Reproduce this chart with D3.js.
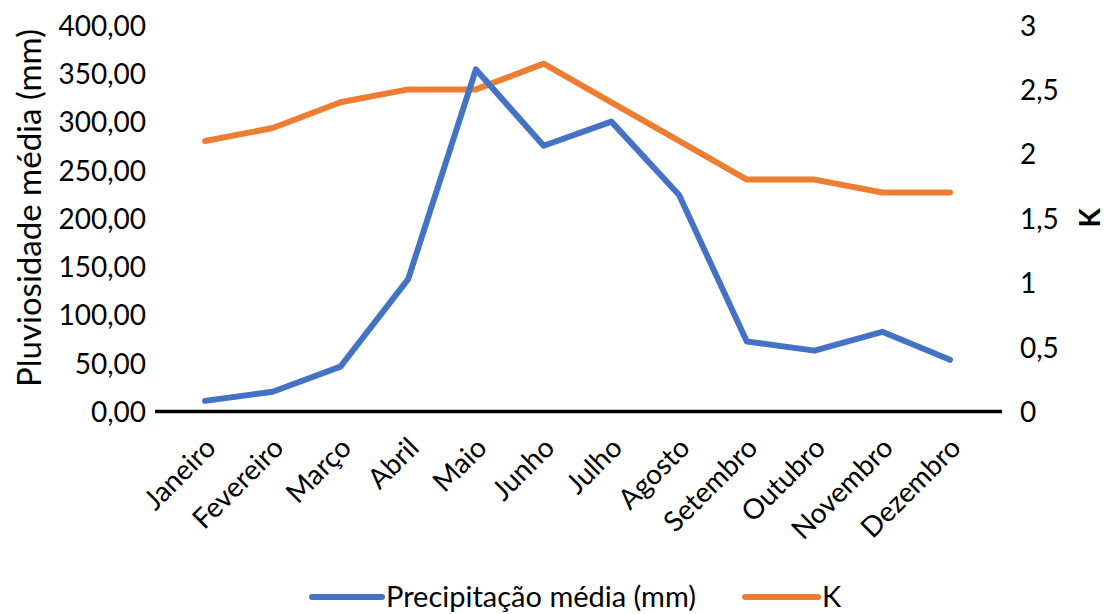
<!DOCTYPE html>
<html>
<head>
<meta charset="utf-8">
<script src="https://cdn.jsdelivr.net/npm/d3@7"></script>
<style>
  html, body { margin: 0; padding: 0; background: #fff; }
  svg text { font-family: Lato, "Open Sans", sans-serif; fill: #000; }
</style>
</head>
<body>
<svg id="chart" width="1111" height="614"></svg>
<script>
// Monthly averages: rainfall (mm, left axis) and K factor (right axis)
const months = ["Janeiro", "Fevereiro", "Março", "Abril", "Maio", "Junho",
                "Julho", "Agosto", "Setembro", "Outubro", "Novembro", "Dezembro"];
const precipitation = [11, 20.5, 46.5, 137, 354, 275, 300, 224, 72.5, 63, 82.5, 53.5];
const kValues = [2.1, 2.2, 2.4, 2.5, 2.5, 2.7, 2.4, 2.1, 1.8, 1.8, 1.7, 1.7];
const leftTicks = [0, 50, 100, 150, 200, 250, 300, 350, 400];
const rightTicks = [0, 0.5, 1, 1.5, 2, 2.5, 3];
const seriesNames = ["Precipitação média (mm)", "K"];
const seriesColors = ["#4472C4", "#ED7D31"];

const svg = d3.select("#chart");
const fmtComma = d => d.toFixed(2).replace(".", ",");
const fmtK = d => String(d).replace(".", ",");

const yTop = 25, yBottom = 411.5;
const x = d3.scalePoint().domain(months).range([205, 950]);
const yL = d3.scaleLinear().domain([0, 400]).range([yBottom, yTop]);
const yR = d3.scaleLinear().domain([0, 3]).range([yBottom, yTop]);

// Left axis: labels only
const leftAxis = d3.axisLeft(yL).tickValues(leftTicks).tickFormat(fmtComma).tickSize(0).tickPadding(0);
const gL = svg.append("g").attr("transform", "translate(146,0)").call(leftAxis);
gL.select(".domain").remove();
gL.selectAll("text").attr("font-size", 28).attr("font-family", "Lato, sans-serif").attr("fill", "#000").attr("dy", "0.36em");

// Right axis: labels only
const rightAxis = d3.axisRight(yR).tickValues(rightTicks).tickFormat(fmtK).tickSize(0).tickPadding(0);
const gR = svg.append("g").attr("transform", "translate(1020,0)").call(rightAxis);
gR.select(".domain").remove();
gR.selectAll("text").attr("font-size", 28).attr("font-family", "Lato, sans-serif").attr("fill", "#000").attr("dy", "0.36em");

// Category axis: rotated month names
const bottomAxis = d3.axisBottom(x).tickSize(0).tickPadding(0);
const gB = svg.append("g").attr("transform", `translate(0,${yBottom})`).call(bottomAxis);
gB.select(".domain").remove();
gB.selectAll("text")
  .attr("font-size", 28).attr("font-family", "Lato, sans-serif").attr("fill", "#000")
  .attr("text-anchor", "end")
  .attr("dy", null).attr("y", null)
  .attr("transform", "translate(12,38) rotate(-45)");

// Horizontal baseline
svg.append("line")
  .attr("x1", 155).attr("x2", 1002)
  .attr("y1", yL(0)).attr("y2", yL(0))
  .attr("stroke", "#000").attr("stroke-width", 3.5);

// Series lines
const lineP = d3.line().x((d, i) => x(months[i])).y(d => yL(d));
const lineK = d3.line().x((d, i) => x(months[i])).y(d => yR(d));

svg.append("path").datum(kValues)
  .attr("d", lineK).attr("fill", "none")
  .attr("stroke", seriesColors[1]).attr("stroke-width", 6)
  .attr("stroke-linejoin", "round").attr("stroke-linecap", "round");

svg.append("path").datum(precipitation)
  .attr("d", lineP).attr("fill", "none")
  .attr("stroke", seriesColors[0]).attr("stroke-width", 6)
  .attr("stroke-linejoin", "round").attr("stroke-linecap", "round");

// Axis titles
svg.append("text")
  .attr("transform", "translate(41,208) rotate(-90)")
  .attr("text-anchor", "middle")
  .attr("font-size", 33)
  .text("Pluviosidade média (mm)");

svg.append("text")
  .attr("transform", "translate(1100,218) rotate(-90)")
  .attr("text-anchor", "middle")
  .attr("font-size", 28).attr("font-weight", "bold")
  .text("K");

// Legend
const legendY = 597;
const legendItems = [
  { x1: 312, x2: 382, tx: 386 },
  { x1: 745, x2: 818, tx: 822 }
];
legendItems.forEach((it, i) => {
  svg.append("line")
    .attr("x1", it.x1).attr("x2", it.x2)
    .attr("y1", legendY).attr("y2", legendY)
    .attr("stroke", seriesColors[i]).attr("stroke-width", 6)
    .attr("stroke-linecap", "round");
  svg.append("text")
    .attr("x", it.tx).attr("y", legendY).attr("dy", "0.36em")
    .attr("font-size", 29)
    .text(seriesNames[i]);
});
</script>
</body>
</html>
